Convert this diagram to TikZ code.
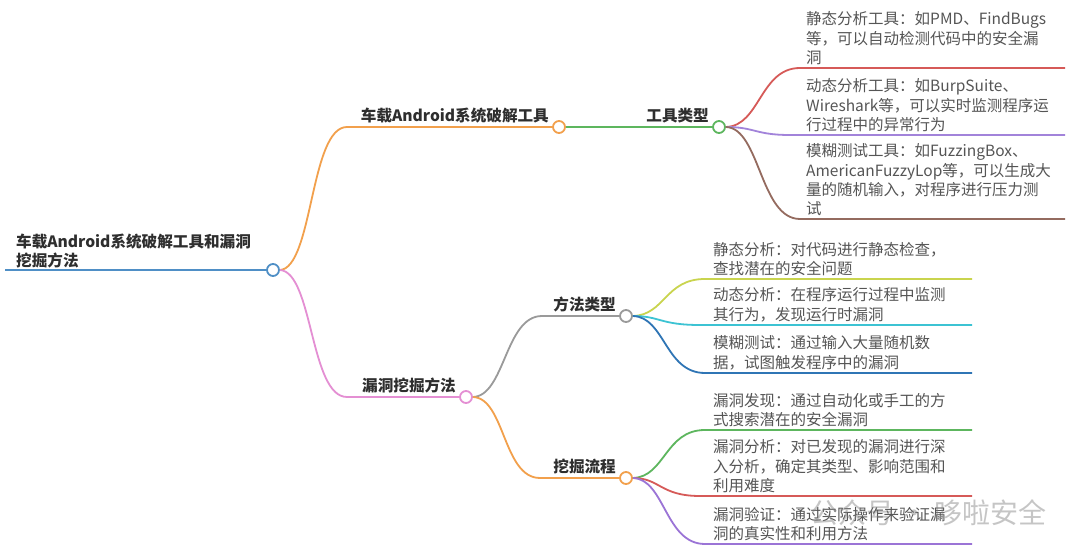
\documentclass[tikz,border=0pt]{standalone}
\usepackage{fontspec}
\setmainfont{Noto Sans CJK SC}
\definecolor{cblue}{HTML}{4F8FC6}
\definecolor{corange}{HTML}{F2A04C}
\definecolor{cgreen}{HTML}{5DB65E}
\definecolor{cred}{HTML}{D65A58}
\definecolor{cpurple}{HTML}{A283DA}
\definecolor{cbrown}{HTML}{946B5F}
\definecolor{cpink}{HTML}{E48FD3}
\definecolor{cgray}{HTML}{9A9A9A}
\definecolor{cyellow}{HTML}{C9D44E}
\definecolor{ccyan}{HTML}{3CC3D3}
\definecolor{cdblue}{HTML}{2F75B5}
\definecolor{cpurple2}{HTML}{9B74D6}
\definecolor{textdark}{HTML}{2E2E2E}
\definecolor{textleaf}{HTML}{555555}
\begin{document}
\begin{tikzpicture}[x=1pt,y=-1pt,
  conn/.style={line width=1.8pt},
  dotc/.style={circle,draw,fill=white,line width=1.8pt,minimum size=12pt,inner sep=0pt},
  lab/.style={font=\fontsize{15.6}{19}\selectfont\bfseries,text=textdark,inner sep=0pt},
  leaf/.style={font=\fontsize{15.5}{19.3}\selectfont,text=textleaf,align=left,inner sep=0pt,anchor=south west}]
\useasboundingbox (0,0) rectangle (1080,556);
\fill[white] (0,0) rectangle (1080,556);

% circles
\node[dotc,draw=cblue] (root) at (273,270) {};
\node[dotc,draw=corange] (b1) at (559,127) {};
\node[dotc,draw=cgreen] (t1) at (719,127) {};
\node[dotc,draw=cpink] (b2) at (466,397) {};
\node[dotc,draw=cgray] (t2) at (626,316) {};
\node[dotc,draw=corange] (t3) at (626,478) {};

% labels
\node[lab,anchor=south west,align=left] (roottxt) at (16,268) {车载Android系统破解工具和漏洞\\挖掘方法};
\node[lab,anchor=south east] (l1) at (549,123) {车载Android系统破解工具};
\node[lab,anchor=south east] (l2) at (709,123) {工具类型};
\node[lab,anchor=south east] (l3) at (456,393) {漏洞挖掘方法};
\node[lab,anchor=south east] (l4) at (616,312) {方法类型};
\node[lab,anchor=south east] (l5) at (616,474) {挖掘流程};

% root line
\coordinate (rs) at (5,270);
\draw[conn,cblue] (rs) -- (root.west);

% main branches
\coordinate (b1h) at (347,127);
\coordinate (b2h) at (347,397);
\draw[conn,corange] (root.east) .. controls (313,268) and (310,127) .. (b1h) -- (b1.west);
\draw[conn,cpink] (root.east) .. controls (313,272) and (310,397) .. (b2h) -- (b2.west);
\draw[conn,cgreen] (b1.east) -- (t1.west);

\coordinate (t2h) at (542,316);
\coordinate (t3h) at (540,478);
\draw[conn,cgray] (b2.east) .. controls (505,396) and (505,316) .. (t2h) -- (t2.west);
\draw[conn,corange] (b2.east) .. controls (505,398) and (503,478) .. (t3h) -- (t3.west);

% tool leaves
\coordinate (a1) at (800,68);  \coordinate (a1e) at (1065,68);
\coordinate (a2) at (790,135); \coordinate (a2e) at (1065,135);
\coordinate (a3) at (800,219); \coordinate (a3e) at (1065,219);
\draw[conn,cred] (t1.east) .. controls (760,126) and (760,68) .. (a1) -- (a1e);
\draw[conn,cpurple] (t1.east) .. controls (755,127) and (755,135) .. (a2) -- (a2e);
\draw[conn,cbrown] (t1.east) .. controls (760,128) and (760,219) .. (a3) -- (a3e);

% method leaves
\coordinate (m1) at (705,279); \coordinate (m1e) at (972,279);
\coordinate (m2) at (700,325); \coordinate (m2e) at (972,325);
\coordinate (m3) at (705,373); \coordinate (m3e) at (972,373);
\draw[conn,cyellow] (t2.east) .. controls (665,315) and (665,279) .. (m1) -- (m1e);
\draw[conn,ccyan] (t2.east) .. controls (660,316) and (660,325) .. (m2) -- (m2e);
\draw[conn,cdblue] (t2.east) .. controls (665,317) and (665,373) .. (m3) -- (m3e);

% process leaves
\coordinate (p1) at (705,430); \coordinate (p1e) at (972,430);
\coordinate (p2) at (700,496); \coordinate (p2e) at (972,496);
\coordinate (p3) at (705,544); \coordinate (p3e) at (972,544);
\draw[conn,cgreen] (t3.east) .. controls (665,477) and (665,430) .. (p1) -- (p1e);
\draw[conn,cred] (t3.east) .. controls (660,478) and (660,496) .. (p2) -- (p2e);
\draw[conn,cpurple2] (t3.east) .. controls (665,479) and (665,544) .. (p3) -- (p3e);

% leaf texts
\node[leaf] (x1) at (806,65) {静态分析工具：如PMD、FindBugs\\等，可以自动检测代码中的安全漏\\洞};
\node[leaf] (x2) at (806,132) {动态分析工具：如BurpSuite、\\Wireshark等，可以实时监测程序运\\行过程中的异常行为};
\node[leaf] (x3) at (806,216) {模糊测试工具：如FuzzingBox、\\AmericanFuzzyLop等，可以生成大\\量的随机输入，对程序进行压力测\\试};

\node[leaf] (y1) at (713,276) {静态分析：对代码进行静态检查，\\查找潜在的安全问题};
\node[leaf] (y2) at (713,322) {动态分析：在程序运行过程中监测\\其行为，发现运行时漏洞};
\node[leaf] (y3) at (713,370) {模糊测试：通过输入大量随机数\\据，试图触发程序中的漏洞};

\node[leaf] (z1) at (713,427) {漏洞发现：通过自动化或手工的方\\式搜索潜在的安全漏洞};
\node[leaf] (z2) at (713,493) {漏洞分析：对已发现的漏洞进行深\\入分析，确定其类型、影响范围和\\利用难度};
\node[leaf] (z3) at (713,541) {漏洞验证：通过实际操作来验证漏\\洞的真实性和利用方法};

% watermark
\node[font=\fontsize{28}{30}\selectfont,text=gray,opacity=0.45,inner sep=0pt,anchor=west] (wm) at (810,513) {公众号 · 哆啦安全};
\end{tikzpicture}
\end{document}
